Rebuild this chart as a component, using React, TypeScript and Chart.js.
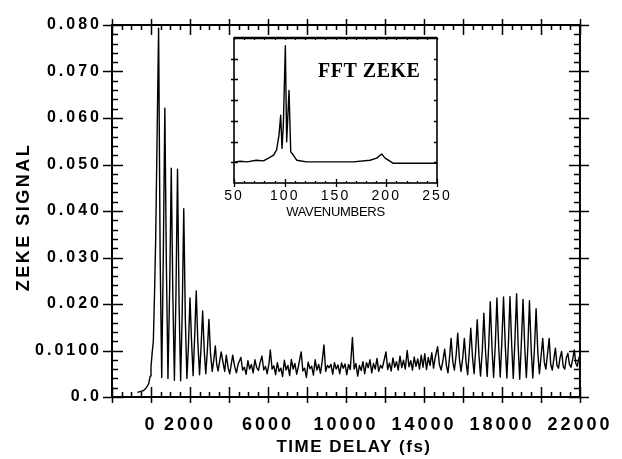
import React, { useEffect, useRef } from 'react';
import { Chart, registerables } from 'chart.js';

Chart.register(...registerables);

// ---------- main trace: ZEKE signal vs time delay (fs) ----------
const riseDelays = [
  -700, -520, -380, -240, -120, -40, 0, 60, 120, 180,
  240, 300, 390, 470, 550, 630, 710, 790, 870, 960,
  1040, 1120, 1200, 1280, 1360, 1440, 1520, 1600, 1680, 1760,
  1840, 1920, 2000, 2080, 2160, 2240, 2320, 2400, 2490, 2570,
  2650, 2730, 2810, 2890, 2970, 3050, 3140, 3220, 3300, 3370,
  3440,
];
const riseSignal = [
  0.0010, 0.0012, 0.0014, 0.0020, 0.0028, 0.0045, 0.0065, 0.0095, 0.0120, 0.0220,
  0.0340, 0.0520, 0.0793, 0.0300, 0.0042, 0.0300, 0.0621, 0.0280, 0.0040, 0.0240,
  0.0492, 0.0220, 0.0036, 0.0220, 0.0490, 0.0200, 0.0035, 0.0180, 0.0405, 0.0170,
  0.0040, 0.0110, 0.0213, 0.0120, 0.0046, 0.0130, 0.0228, 0.0120, 0.0048, 0.0110,
  0.0185, 0.0100, 0.0050, 0.0100, 0.0167, 0.0095, 0.0055, 0.0080, 0.0110, 0.0070,
  0.0056,
];

const plateauDelays = [
  3600, 3720, 3780, 3860, 3960, 4040, 4190, 4290, 4380, 4470,
  4610, 4700, 4790, 4880, 4970, 5060, 5150, 5240, 5330, 5420,
  5510, 5600, 5690, 5780, 5870, 5960, 6050, 6120, 6210, 6300,
  6390, 6480, 6570, 6660, 6750, 6840, 6930, 7020, 7110, 7200,
  7290, 7380, 7470, 7560, 7700, 7790, 7880, 7970, 8060, 8150,
  8240, 8330, 8420, 8510, 8600, 8690, 8780, 8870, 8960, 9050,
  9140, 9230, 9320, 9410, 9500, 9590, 9680, 9770, 9860, 9950,
  10040, 10130, 10220, 10330, 10420, 10510, 10600, 10690, 10780, 10870,
  10960, 11050, 11140, 11230, 11320, 11410, 11500, 11590, 11680, 11770,
  11860, 11950, 12050, 12140, 12230, 12320, 12410, 12500, 12590, 12680,
  12770, 12860, 12950, 13040, 13140, 13230, 13320, 13410, 13500, 13590,
  13680, 13770, 13860, 13950, 14040, 14130, 14220, 14310, 14400, 14490,
  14580,
];
const plateauSignal = [
  0.0097, 0.0068, 0.0055, 0.0090, 0.0062, 0.0050, 0.0090, 0.0066, 0.0052, 0.0071,
  0.0085, 0.0058, 0.0064, 0.0049, 0.0078, 0.0060, 0.0070, 0.0052, 0.0080, 0.0063,
  0.0057, 0.0075, 0.0088, 0.0058, 0.0066, 0.0050, 0.0072, 0.0101, 0.0060, 0.0067,
  0.0048, 0.0074, 0.0055, 0.0062, 0.0044, 0.0079, 0.0058, 0.0068, 0.0046, 0.0081,
  0.0060, 0.0072, 0.0049, 0.0066, 0.0097, 0.0056, 0.0062, 0.0042, 0.0075, 0.0061,
  0.0066, 0.0047, 0.0080, 0.0058, 0.0070, 0.0051, 0.0077, 0.0112, 0.0055, 0.0068,
  0.0063, 0.0070, 0.0049, 0.0074, 0.0060, 0.0069, 0.0050, 0.0073, 0.0062, 0.0071,
  0.0048, 0.0070, 0.0059, 0.0128, 0.0060, 0.0072, 0.0045, 0.0068, 0.0057, 0.0076,
  0.0050, 0.0074, 0.0063, 0.0080, 0.0052, 0.0072, 0.0060, 0.0083, 0.0055, 0.0068,
  0.0062, 0.0078, 0.0097, 0.0059, 0.0073, 0.0056, 0.0084, 0.0064, 0.0076, 0.0058,
  0.0088, 0.0063, 0.0079, 0.0060, 0.0100, 0.0065, 0.0078, 0.0058, 0.0086, 0.0066,
  0.0082, 0.0060, 0.0090, 0.0064, 0.0093, 0.0059, 0.0085, 0.0068, 0.0095, 0.0062,
  0.0086,
];

const revivalDelays = [
  14700, 14790, 14880, 14970, 15060, 15150, 15230, 15310, 15390, 15480,
  15560, 15650, 15730, 15820, 15900, 15990, 16070, 16160, 16240, 16320,
  16400, 16490, 16570, 16650, 16730, 16820, 16900, 16990, 17070, 17160,
  17240, 17320, 17400, 17490, 17570, 17660, 17740, 17830, 17910, 17990,
  18080, 18170, 18250, 18330, 18410, 18500, 18580, 18660, 18750, 18830,
  18910, 18990, 19080, 19170, 19250, 19330, 19410, 19500, 19580, 19660,
  19750, 19840, 19920, 20000, 20090, 20170, 20250, 20330, 20420, 20500,
  20580, 20660, 20740, 20820, 20900, 20980, 21060, 21140, 21220, 21300,
  21380, 21460, 21540, 21620, 21710, 21790, 21860, 21960,
];
const revivalSignal = [
  0.0108, 0.0070, 0.0058, 0.0078, 0.0103, 0.0068, 0.0052, 0.0085, 0.0126, 0.0075,
  0.0058, 0.0090, 0.0137, 0.0080, 0.0055, 0.0085, 0.0126, 0.0075, 0.0048, 0.0095,
  0.0148, 0.0085, 0.0050, 0.0100, 0.0166, 0.0090, 0.0045, 0.0100, 0.0180, 0.0095,
  0.0044, 0.0110, 0.0205, 0.0105, 0.0042, 0.0115, 0.0213, 0.0110, 0.0043, 0.0115,
  0.0215, 0.0110, 0.0041, 0.0115, 0.0216, 0.0110, 0.0040, 0.0118, 0.0222, 0.0110,
  0.0038, 0.0112, 0.0210, 0.0105, 0.0042, 0.0110, 0.0207, 0.0100, 0.0041, 0.0100,
  0.0190, 0.0095, 0.0050, 0.0085, 0.0126, 0.0075, 0.0060, 0.0090, 0.0126, 0.0070,
  0.0058, 0.0082, 0.0105, 0.0068, 0.0062, 0.0085, 0.0098, 0.0066, 0.0060, 0.0084,
  0.0094, 0.0070, 0.0064, 0.0080, 0.0101, 0.0072, 0.0066, 0.0087,
];

const xTickValues = [0, 2000, 6000, 10000, 14000, 18000, 22000];
const yTickValues = [0, 0.01, 0.02, 0.03, 0.04, 0.05, 0.06, 0.07, 0.08];
const yTickLabels = ['0.0', '0.0100', '0.020', '0.030', '0.040', '0.050', '0.060', '0.070', '0.080'];

// ---------- inset: FFT of the ZEKE trace ----------
const wavenumbers = [
  50, 56, 63, 72, 79, 84, 89, 92, 94.3, 96,
  97.3, 98.6, 100.6, 101.9, 104.2, 105.9, 108.4, 111.8, 121.6, 134.7,
  151, 167.5, 184, 190.6, 195.5, 197.2, 198.8, 202, 207, 220,
  250,
];
const fftAmplitude = [
  1.0, 1.05, 1.02, 1.1, 1.07, 1.2, 1.35, 1.6, 2.3, 3.27,
  1.67, 2.8, 6.63, 1.99, 4.47, 1.5, 1.35, 1.1, 1.02, 1.02,
  1.02, 1.02, 1.1, 1.2, 1.4, 1.3, 1.2, 1.1, 0.95, 0.95,
  0.95,
];
const insetTickValues = [50, 100, 150, 200, 250];
const insetLabel = { text: 'FFT ZEKE', wavenumber: 132.8, amplitude: 5.11 };

const SANS = '"Liberation Sans", Arial, Helvetica, sans-serif';
const SERIF = '"Liberation Serif", "Times New Roman", serif';

function toPoints(xs: number[], ys: number[]) {
  const n = Math.min(xs.length, ys.length);
  const out: { x: number; y: number }[] = [];
  for (let i = 0; i < n; i++) out.push({ x: xs[i], y: ys[i] });
  return out;
}

// wrap a scale drawing method so its text gets letter spacing (and optional shift)
function patchScale(scale: any, method: string, spacing: string, dx = 0, dy = 0) {
  if (!scale || scale['__p_' + method]) return;
  const orig = scale[method];
  scale[method] = function (...args: any[]) {
    const ctx = this.ctx as CanvasRenderingContext2D;
    ctx.save();
    (ctx as any).letterSpacing = spacing;
    ctx.translate(dx, dy);
    const r = orig.apply(this, args);
    ctx.restore();
    return r;
  };
  scale['__p_' + method] = true;
}

function seg(ctx: CanvasRenderingContext2D, x1: number, y1: number, x2: number, y2: number) {
  ctx.moveTo(x1, y1);
  ctx.lineTo(x2, y2);
}

const snap = (p: number) => Math.round(p) + 0.5;

const mainFrame = {
  id: 'mainFrame',
  beforeDraw(chart: any) {
    patchScale(chart.scales.x, 'drawLabels', '3px');
    patchScale(chart.scales.x, 'drawTitle', '1.5px', 8, 0);
    patchScale(chart.scales.y, 'drawLabels', '3px');
    patchScale(chart.scales.y, 'drawTitle', '2.5px', 0, 6);
  },
  afterDraw(chart: any) {
    const ctx = chart.ctx as CanvasRenderingContext2D;
    const a = chart.chartArea;
    const xs = chart.scales.x;
    const ys = chart.scales.y;
    ctx.save();
    (ctx as any).letterSpacing = '0px';
    ctx.strokeStyle = '#000';
    ctx.lineWidth = 2;
    ctx.strokeRect(a.left, a.top, a.right - a.left, a.bottom - a.top);
    ctx.lineWidth = 1.5;
    ctx.beginPath();
    for (let k = 0; k <= 48; k++) {
      const v = -2000 + k * 500;
      const px = snap(xs.getPixelForValue(v));
      const major = k % 4 === 0;
      seg(ctx, px, a.bottom + (major ? 6 : 0), px, a.bottom - (major ? 10 : 5));
      seg(ctx, px, a.top - (major ? 6 : 0), px, a.top + (major ? 10 : 5));
    }
    for (let i = 0; i <= 40; i++) {
      const py = snap(ys.getPixelForValue(i * 0.002));
      const major = i % 5 === 0;
      seg(ctx, a.left - (major ? 9 : 0), py, a.left + (major ? 11 : 6), py);
      seg(ctx, a.right + (major ? 9 : 0), py, a.right - (major ? 11 : 6), py);
    }
    ctx.stroke();
    ctx.restore();
  },
};

const insetFrame = {
  id: 'insetFrame',
  beforeDraw(chart: any) {
    patchScale(chart.scales.x, 'drawLabels', '2px');
    patchScale(chart.scales.x, 'drawTitle', '-0.3px');
  },
  afterDraw(chart: any) {
    const ctx = chart.ctx as CanvasRenderingContext2D;
    const a = chart.chartArea;
    const xs = chart.scales.x;
    const ys = chart.scales.y;
    ctx.save();
    (ctx as any).letterSpacing = '0px';
    ctx.strokeStyle = '#000';
    ctx.lineWidth = 1.6;
    ctx.strokeRect(a.left, a.top, a.right - a.left, a.bottom - a.top);
    ctx.lineWidth = 2.4;
    ctx.beginPath();
    seg(ctx, a.left, a.top, a.right, a.top);
    ctx.stroke();
    ctx.lineWidth = 1.3;
    ctx.beginPath();
    for (let v = 50; v <= 250; v += 10) {
      const px = snap(xs.getPixelForValue(v));
      const major = v % 50 === 0;
      seg(ctx, px, a.bottom + (major ? 4 : 0), px, a.bottom - (major ? 4 : 2));
      seg(ctx, px, a.top, px, a.top + 2);
    }
    for (let v = 1; v <= 6; v++) {
      const py = snap(ys.getPixelForValue(v));
      seg(ctx, a.left - 3, py, a.left + 4, py);
      seg(ctx, a.right, py, a.right - 3, py);
    }
    ctx.stroke();
    ctx.fillStyle = '#000';
    ctx.font = 'bold 20px ' + SERIF;
    (ctx as any).letterSpacing = '0.5px';
    ctx.textAlign = 'left';
    ctx.textBaseline = 'alphabetic';
    ctx.fillText(
      insetLabel.text,
      xs.getPixelForValue(insetLabel.wavenumber),
      ys.getPixelForValue(insetLabel.amplitude)
    );
    ctx.restore();
  },
};

export default function App() {
  const mainRef = useRef<HTMLCanvasElement>(null);
  const insetRef = useRef<HTMLCanvasElement>(null);

  useEffect(() => {
    const trace = [
      ...toPoints(riseDelays, riseSignal),
      ...toPoints(plateauDelays, plateauSignal),
      ...toPoints(revivalDelays, revivalSignal),
    ];
    const main = new Chart(mainRef.current as HTMLCanvasElement, {
      type: 'line',
      data: {
        datasets: [
          {
            data: trace,
            borderColor: '#000',
            borderWidth: 1.4,
            borderJoinStyle: 'round',
            pointRadius: 0,
            tension: 0,
            fill: false,
          },
        ],
      },
      options: {
        animation: false,
        responsive: false,
        maintainAspectRatio: false,
        events: [],
        layout: { padding: { left: 0, right: 33, top: 25, bottom: 0 } },
        plugins: { legend: { display: false }, tooltip: { enabled: false } },
        scales: {
          x: {
            type: 'linear',
            min: -2000,
            max: 22000,
            afterBuildTicks: (s: any) => {
              s.ticks = xTickValues.map((v) => ({ value: v }));
            },
            afterFit: (s: any) => {
              s.height = 62;
            },
            ticks: {
              autoSkip: false,
              maxRotation: 0,
              padding: 17,
              color: '#000',
              font: { family: SANS, size: 18, weight: 'bold' },
              callback: (v: any) => String(v),
            },
            grid: { display: false, drawTicks: false },
            border: { display: false },
            title: {
              display: true,
              text: 'TIME DELAY (fs)',
              color: '#000',
              font: { family: SANS, size: 17, weight: 'bold' },
              padding: { top: 0, bottom: 1 },
            },
          },
          y: {
            type: 'linear',
            min: 0,
            max: 0.08,
            afterBuildTicks: (s: any) => {
              s.ticks = yTickValues.map((v) => ({ value: v }));
            },
            afterFit: (s: any) => {
              s.width = 112;
            },
            ticks: {
              autoSkip: false,
              padding: 10,
              color: '#000',
              font: { family: SANS, size: 16, weight: 'bold' },
              callback: (_v: any, i: number) => yTickLabels[i],
            },
            grid: { display: false, drawTicks: false },
            border: { display: false },
            title: {
              display: true,
              text: 'ZEKE SIGNAL',
              color: '#000',
              font: { family: SANS, size: 18, weight: 'bold' },
              padding: { top: 13, bottom: 0 },
            },
          },
        },
      },
      plugins: [mainFrame],
    } as any);

    const inset = new Chart(insetRef.current as HTMLCanvasElement, {
      type: 'line',
      data: {
        datasets: [
          {
            data: toPoints(wavenumbers, fftAmplitude),
            borderColor: '#000',
            borderWidth: 1.4,
            borderJoinStyle: 'round',
            pointRadius: 0,
            tension: 0,
            fill: false,
          },
        ],
      },
      options: {
        animation: false,
        responsive: false,
        maintainAspectRatio: false,
        events: [],
        layout: { padding: { left: 34, right: 33, top: 8, bottom: 0 } },
        plugins: { legend: { display: false }, tooltip: { enabled: false } },
        scales: {
          x: {
            type: 'linear',
            min: 50,
            max: 250,
            afterBuildTicks: (s: any) => {
              s.ticks = insetTickValues.map((v) => ({ value: v }));
            },
            afterFit: (s: any) => {
              s.height = 47;
            },
            ticks: {
              autoSkip: false,
              maxRotation: 0,
              padding: 5,
              color: '#000',
              font: { family: SANS, size: 14 },
              callback: (v: any) => String(v),
            },
            grid: { display: false, drawTicks: false },
            border: { display: false },
            title: {
              display: true,
              text: 'WAVENUMBERS',
              color: '#000',
              font: { family: SANS, size: 13 },
              padding: { top: 0, bottom: 10 },
            },
          },
          y: { type: 'linear', display: false, min: 0, max: 7 },
        },
      },
      plugins: [insetFrame],
    } as any);

    return () => {
      main.destroy();
      inset.destroy();
    };
  }, []);

  return (
    <div style={{ position: 'fixed', left: 0, top: 0, width: 622, height: 459, background: '#fff' }}>
      <canvas
        ref={mainRef}
        width={622}
        height={459}
        style={{ position: 'absolute', left: 0, top: 0, width: 622, height: 459 }}
      />
      <canvas
        ref={insetRef}
        width={270}
        height={200}
        style={{ position: 'absolute', left: 200, top: 30, width: 270, height: 200 }}
      />
    </div>
  );
}
